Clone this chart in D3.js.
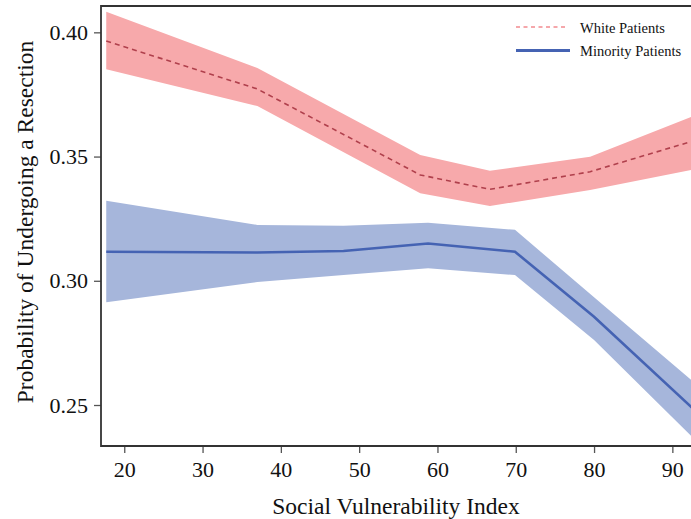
<!DOCTYPE html>
<html>
<head>
<meta charset="utf-8">
<script src="https://cdn.jsdelivr.net/npm/d3@7"></script>
<style>
  body { margin: 0; background: #fff; }
  svg { display: block; font-family: "Liberation Serif", "Times New Roman", serif; }
</style>
</head>
<body>
<svg id="chart" width="691" height="519"></svg>
<script>
// white patients: svi points, mean and 95% band
let whiteSvi  = [17.7, 37, 57.8, 66.7, 79.5, 93];
let whiteMean = [0.3965, 0.3772, 0.3426, 0.3368, 0.3439, 0.3566];
let whiteHi   = [0.4083, 0.3856, 0.3506, 0.3443, 0.3499, 0.3667];
let whiteLo   = [0.3851, 0.3703, 0.3352, 0.3301, 0.3365, 0.3450];

// minority patients
let minoritySvi  = [17.7, 37, 48, 58.8, 69.9, 80, 93];
let minorityMean = [0.3117, 0.3114, 0.3120, 0.3150, 0.3117, 0.2855, 0.2475];
let minorityHi   = [0.3322, 0.3225, 0.3222, 0.3234, 0.3205, 0.2934, 0.2585];
let minorityLo   = [0.2914, 0.2995, 0.3023, 0.3050, 0.3023, 0.2762, 0.2357];

let xTicks = [20, 30, 40, 50, 60, 70, 80, 90];
let yTicks = [0.25, 0.30, 0.35, 0.40];
let legendLabels = ["White Patients", "Minority Patients"];

let svg = d3.select("#chart");
let margin = {left: 101, top: 6};
let innerW = 620, innerH = 440;

let x = d3.scaleLinear().domain([17.03, 17.03 + innerW / 7.83]).range([0, innerW]);
let y = d3.scaleLinear().domain([0.2335, 0.4106]).range([innerH, 0]);

let g = svg.append("g").attr("transform", "translate(" + margin.left + "," + margin.top + ")");

g.append("clipPath").attr("id", "clip")
  .append("rect").attr("width", innerW).attr("height", innerH);

let plot = g.append("g").attr("clip-path", "url(#clip)");

let rows = (sv, m, lo, hi) => sv.map((s, i) => ({s: s, m: m[i], lo: lo[i], hi: hi[i]}));
let white = rows(whiteSvi, whiteMean, whiteLo, whiteHi);
let minority = rows(minoritySvi, minorityMean, minorityLo, minorityHi);

let area = d3.area().x(d => x(d.s)).y0(d => y(d.lo)).y1(d => y(d.hi));
let line = d3.line().x(d => x(d.s)).y(d => y(d.m));

plot.append("path").datum(white).attr("d", area).attr("fill", "#f7a9ab");
plot.append("path").datum(minority).attr("d", area).attr("fill", "#a6b6db");

plot.append("path").datum(white).attr("d", line)
  .attr("fill", "none").attr("stroke", "#b0404c").attr("stroke-width", 1.6)
  .attr("stroke-dasharray", "5,4");
plot.append("path").datum(minority).attr("d", line)
  .attr("fill", "none").attr("stroke", "#4563b3").attr("stroke-width", 2.6);

// axes
let xAxis = g.append("g").attr("transform", "translate(0," + innerH + ")")
  .call(d3.axisBottom(x).tickValues(xTicks).tickSize(7).tickPadding(8));
let yAxis = g.append("g")
  .call(d3.axisLeft(y).tickValues(yTicks).tickFormat(d3.format(".2f")).tickSize(7).tickPadding(6));

[xAxis, yAxis].forEach(a => {
  a.select(".domain").remove();
  a.selectAll(".tick line").attr("stroke", "#555").attr("stroke-width", 1.3);
  a.selectAll(".tick text").attr("fill", "#111")
    .style("font-family", "'Liberation Serif', serif").style("font-size", "22px");
});

// frame (left, top, bottom; right edge is off the picture)
g.append("path")
  .attr("d", "M" + (innerW + 5) + ",0H0V" + innerH + "H" + (innerW + 5))
  .attr("fill", "none").attr("stroke", "#333").attr("stroke-width", 1.8);

// axis titles
svg.append("text")
  .attr("x", 396).attr("y", 514).attr("text-anchor", "middle")
  .style("font-size", "23.5px").attr("fill", "#111")
  .text("Social Vulnerability Index");

svg.append("text")
  .attr("transform", "translate(33,222) rotate(-90)").attr("text-anchor", "middle")
  .style("font-size", "23.5px").attr("fill", "#111")
  .text("Probability of Undergoing a Resection");

// legend
let legend = svg.append("g").attr("transform", "translate(516,27)");
legend.append("line").attr("x1", 0).attr("x2", 52).attr("y1", 0).attr("y2", 0)
  .attr("stroke", "#f28b90").attr("stroke-width", 1.6).attr("stroke-dasharray", "4,3.5");
legend.append("line").attr("x1", 0).attr("x2", 54).attr("y1", 23.5).attr("y2", 23.5)
  .attr("stroke", "#4563b3").attr("stroke-width", 3);
legend.selectAll("text.lab").data(legendLabels).enter().append("text")
  .attr("class", "lab")
  .attr("x", 64).attr("y", (d, i) => 5.5 + i * 23.5)
  .style("font-size", "14.5px").attr("fill", "#111")
  .text(d => d);
</script>
</body>
</html>
